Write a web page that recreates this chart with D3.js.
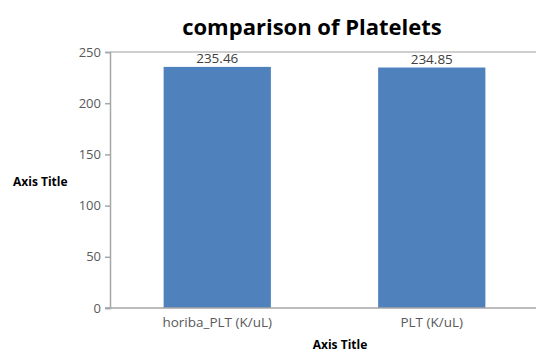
<!DOCTYPE html>
<html>
<head>
<meta charset="utf-8">
<script src="https://cdn.jsdelivr.net/npm/d3@7"></script>
<style>
  body { margin: 0; background: #fff; }
  text { font-family: "Open Sans", "Liberation Sans", sans-serif; }
</style>
</head>
<body>
<div id="container"></div>
<script>
var categories = ["horiba_PLT (K/uL)", "PLT (K/uL)"];
var values = [235.46, 234.85];
var yTicks = [0, 50, 100, 150, 200, 250];

var totalWidth = 536, totalHeight = 352;
var margin = {top: 52, right: -3, bottom: 44, left: 110},
    width = totalWidth - margin.left - margin.right,
    height = totalHeight - margin.top - margin.bottom;

var xScale = d3.scaleBand()
               .domain(categories)
               .range([0, width])
               .paddingInner(0.5)
               .paddingOuter(0.25);

var yScale = d3.scaleLinear()
               .domain([0, 250])
               .range([height, 0]);

var svg = d3.select("#container")
            .append("svg")
            .attr("width", totalWidth)
            .attr("height", totalHeight);

var g = svg.append("g")
           .attr("transform", "translate(" + margin.left + "," + margin.top + ")");

// 网格线 (只有顶部)
g.append("line")
 .attr("x1", 0).attr("x2", width)
 .attr("y1", yScale(250)).attr("y2", yScale(250))
 .attr("stroke", "#bfbfbf").attr("stroke-width", 1.5);

// y 轴
var yAxis = d3.axisLeft(yScale).tickValues(yTicks).tickSize(5).tickPadding(4);
var yg = g.append("g").attr("class", "y-axis").call(yAxis);
yg.select(".domain").attr("stroke", "#a6a6a6").attr("stroke-width", 1.5);
yg.selectAll(".tick line").attr("stroke", "#a6a6a6").attr("stroke-width", 1.5);
yg.selectAll(".tick text").attr("font-size", 13).attr("fill", "#595959");

// 柱子
g.append("g")
 .selectAll("rect")
 .data(values).enter()
 .append("rect")
 .attr("x", function(d, i) { return xScale(categories[i]); })
 .attr("width", xScale.bandwidth())
 .attr("y", function(d) { return yScale(d); })
 .attr("height", function(d) { return height - yScale(d); })
 .attr("fill", "#4f81bd");

// 数值标签
g.append("g")
 .selectAll("text")
 .data(values).enter()
 .append("text")
 .attr("x", function(d, i) { return xScale(categories[i]) + xScale.bandwidth() / 2; })
 .attr("y", function(d) { return yScale(d) - 4; })
 .attr("text-anchor", "middle")
 .attr("font-size", 13.5)
 .attr("fill", "#404040")
 .text(function(d) { return d.toFixed(2); });

// x 轴
var xAxis = d3.axisBottom(xScale).tickSize(0).tickPadding(9);
var xg = g.append("g").attr("class", "x-axis")
          .attr("transform", "translate(0," + height + ")")
          .call(xAxis);
xg.select(".domain").attr("stroke", "#a6a6a6").attr("stroke-width", 1.5)
  .attr("d", "M-5,0H" + width);
xg.selectAll(".tick text").attr("font-size", 13.5).attr("fill", "#595959");

// 标题
svg.append("text")
   .attr("x", 312).attr("y", 35)
   .attr("text-anchor", "middle")
   .attr("font-size", 22)
   .attr("font-weight", "bold")
   .attr("fill", "#000")
   .text("comparison of Platelets");

// 坐标轴标题
svg.append("text")
   .attr("x", 13).attr("y", 186)
   .attr("font-size", 12)
   .attr("font-weight", "bold")
   .attr("fill", "#000")
   .text("Axis Title");
svg.append("text")
   .attr("x", 340).attr("y", 349)
   .attr("text-anchor", "middle")
   .attr("font-size", 12)
   .attr("font-weight", "bold")
   .attr("fill", "#000")
   .text("Axis Title");
</script>
</body>
</html>
